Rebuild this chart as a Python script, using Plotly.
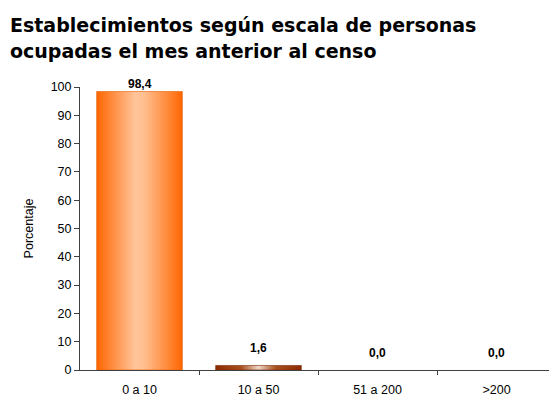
import plotly.graph_objects as go

categories = ["0 a 10", "10 a 50", "51 a 200", ">200"]
values = [98.4, 1.6, 0.0, 0.0]
y_ticks = [0, 10, 20, 30, 40, 50, 60, 70, 80, 90, 100]
title_lines = ["Establecimientos según escala de personas", "ocupadas el mes anterior al censo"]
y_title = "Porcentaje"

BAR_W = 0.72
main_scale = [[0, "#FF6600"], [0.15, "#FF8533"], [0.45, "#FFC49A"], [0.55, "#FFBF90"], [0.85, "#FF8533"], [1, "#FF6600"]]
small_scale = [[0, "#8B2A00"], [0.3, "#A8501E"], [0.5, "#F0D8C8"], [0.7, "#A8501E"], [1, "#8B2A00"]]
LABEL_FONT = "Liberation Sans, Arial"

fig = go.Figure()
for i, v in enumerate(values):
    if v <= 0:
        continue
    x0, x1 = i - BAR_W / 2, i + BAR_W / 2
    fig.add_trace(go.Scatter(
        x=[x0, x1, x1, x0, x0], y=[0, 0, v, v, 0],
        mode="lines", fill="toself",
        line=dict(width=0.6, color="#E05A00" if v > 5 else "#7A2500"),
        fillgradient=dict(type="horizontal", colorscale=main_scale if v > 5 else small_scale),
        hoverinfo="skip", showlegend=False,
    ))

for i, v in enumerate(values):
    fig.add_annotation(
        x=i, y=v, text="<b>" + f"{v:.1f}".replace(".", ",") + "</b>",
        showarrow=False, yanchor="bottom", yshift=-1 if v > 50 else 8,
        font=dict(family=LABEL_FONT, size=12, color="black"),
    )

# figure sits at an 8px page offset; plot area: x 72..548, y 79..362 (figure px)
L, T, B, R = 72, 79, 33, 1
W, H = 549, 395
plot_w, plot_h = W - L - R, H - T - B
for k, (line, base_px) in enumerate(zip(title_lines, [17, 43])):
    fig.add_annotation(
        xref="paper", yref="paper", x=-L / plot_w, y=(H - B - base_px) / plot_h,
        xanchor="left", yanchor="middle", showarrow=False,
        text="<b>" + line + "</b>",
        font=dict(family="DejaVu Sans", size=19, color="black"),
    )

fig.update_layout(
    width=W, height=H,
    margin=dict(l=L, r=R, t=T, b=B),
    paper_bgcolor="white", plot_bgcolor="white",
    xaxis=dict(
        range=[-0.5, 3.5], tickvals=list(range(len(categories))), ticktext=categories,
        ticks="", showgrid=False, zeroline=False, showline=True, linecolor="#404040", linewidth=1,
        tickfont=dict(family=LABEL_FONT, size=12.5, color="black"),
        ticklabelstandoff=8,
        minor=dict(tickvals=[i + 0.5 for i in range(len(categories) - 1)], ticks="outside",
                   ticklen=4, tickcolor="#404040", showgrid=False),
    ),
    yaxis=dict(
        range=[0, 100], tickvals=y_ticks, ticks="outside", ticklen=5, tickcolor="#404040",
        showgrid=False, zeroline=False, showline=True, linecolor="#404040", linewidth=1,
        tickfont=dict(family=LABEL_FONT, size=12.5, color="black"),
        title=dict(text=y_title, font=dict(family=LABEL_FONT, size=12.5, color="black"), standoff=14),
    ),
)

fig.write_html("out.html")
